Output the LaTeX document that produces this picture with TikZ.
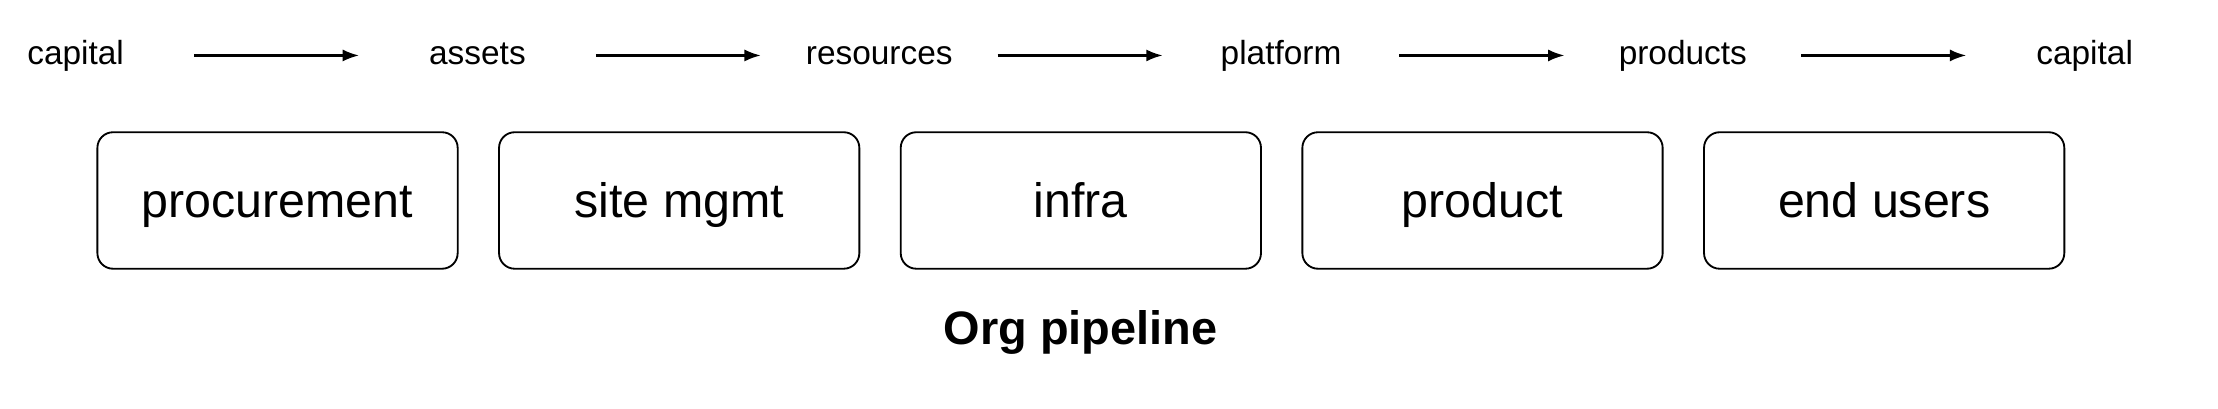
\documentclass[tikz,border=0pt]{standalone}
\usepackage{fontspec}
\setmainfont{Liberation Sans}
\usetikzlibrary{positioning, arrows.meta}
\tikzstyle{flow} = [rectangle, minimum width=166.6pt, inner sep=0pt, outer sep=0pt, text height=18pt, text depth=5pt, font=\fontsize{23.5pt}{28pt}\selectfont]
\tikzstyle{team} = [rectangle, rounded corners=11pt, minimum width=253.4pt, minimum height=96pt, inner sep=0pt, outer sep=0pt, text height=31pt, text depth=7pt, text centered, draw=black, line width=1.3pt, font=\fontsize{34pt}{40pt}\selectfont]
\tikzstyle{heading} = [anchor=base, inner sep=0pt, font=\fontsize{33pt}{40pt}\selectfont\bfseries]
\tikzstyle{arrow} = [line width=1.5pt, -{Latex[length=11.5pt, width=8.5pt]}]

\begin{document}
\begin{tikzpicture}[x=1pt, y=1pt, node distance=116pt]
\useasboundingbox (0,0) rectangle (1560,-287);

% what flows along
\node (capin) [flow] at (53.2,-39) {capital};
\node (assets) [flow, right=of capin] {assets};
\node (resources) [flow, right=of assets] {resources};
\node (platform) [flow, right=of resources] {platform};
\node (products) [flow, right=of platform] {products};
\node (capout) [flow, right=of products] {capital};

% who handles it
\node (proc) [team] at (195.2,-141) {procurement};
\node (site) [team, right=29.1pt of proc] {site mgmt};
\node (infra) [team, right=29.1pt of site] {infra};
\node (product) [team, right=29.1pt of infra] {product};
\node (users) [team, right=29.1pt of product] {end users};

\node (title) [heading] at (760,-242) {Org pipeline};

\draw [arrow] (capin) -- (assets);
\draw [arrow] (assets) -- (resources);
\draw [arrow] (resources) -- (platform);
\draw [arrow] (platform) -- (products);
\draw [arrow] (products) -- (capout);

\end{tikzpicture}
\end{document}
